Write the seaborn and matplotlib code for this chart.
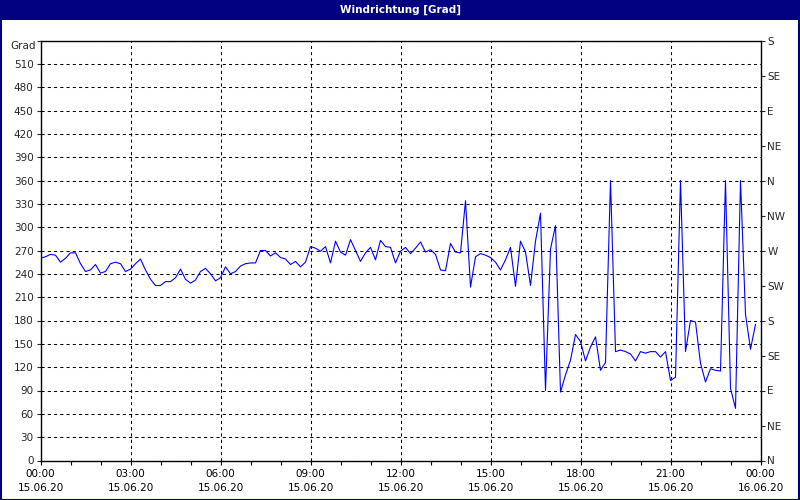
import matplotlib
matplotlib.use("Agg")
import matplotlib.pyplot as plt
import matplotlib.dates as mdates
from matplotlib.patches import Rectangle
from matplotlib.transforms import blended_transform_factory
import seaborn as sns
import pandas as pd

sns.set_style("white")
plt.rcParams['font.family'] = ['DejaVu Sans']
plt.rcParams['font.size'] = 7.5

# Windrichtung alle 10 Minuten, 15.06.20 00:00 - 23:50
richtung = [
    260, 262, 265, 264, 255, 260, 267, 267, 253, 243, 245, 252, 241, 243, 253, 255,
    253, 243, 246, 253, 259, 245, 233, 225, 225, 230, 230, 235, 246, 233, 228, 232,
    243, 247, 240, 231, 235, 249, 240, 243, 250, 253, 254, 254, 270, 270, 263, 267,
    261, 259, 252, 256, 249, 255, 275, 273, 269, 275, 254, 282, 268, 264, 284, 270,
    256, 267, 274, 258, 283, 275, 274, 254, 269, 274, 266, 273, 281, 268, 271, 265,
    245, 244, 279, 268, 267, 334, 223, 262, 266, 264, 261, 255, 245, 258, 274, 224,
    282, 268, 225, 282, 318, 90, 272, 302, 88, 110, 129, 162, 153, 128, 146, 159,
    116, 126, 360, 140, 142, 140, 137, 128, 140, 138, 140, 140, 133, 140, 103, 107,
    360, 140, 180, 178, 125, 101, 118, 116, 115, 360, 93, 67, 360, 188, 143, 175,
]
zeit = pd.date_range("2020-06-15 00:00", periods=len(richtung), freq="10min")
df = pd.DataFrame({"zeit": zeit, "grad": richtung})

grad_ticks = list(range(0, 541, 30))
himmel_ticks = list(range(0, 541, 45))
himmel_labels = ["N", "NE", "E", "SE", "S", "SW", "W", "NW", "N", "NE", "E", "SE", "S"]

fig = plt.figure(figsize=(8, 5), dpi=100, facecolor="white")
ax = fig.add_axes([40.5 / 800, 39.5 / 500, 720 / 800, 420 / 500])

sns.lineplot(data=df, x="zeit", y="grad", ax=ax, color="#0000FF", linewidth=0.8)

ax.set_xlim(pd.Timestamp("2020-06-15 00:00"), pd.Timestamp("2020-06-16 00:00"))
ax.set_ylim(0, 540)
ax.set_xlabel("")
ax.set_ylabel("")

ax.xaxis.set_major_locator(mdates.HourLocator(byhour=range(0, 24, 3)))
ax.xaxis.set_minor_locator(mdates.HourLocator())
ax.xaxis.set_major_formatter(mdates.DateFormatter("%H:%M\n%d.%m.%y"))
ax.set_yticks(grad_ticks)
ax.set_yticklabels([str(v) for v in grad_ticks[:-1]] + [""])

ax.tick_params(axis="x", which="both", direction="out", length=3, width=0.8,
               bottom=True, colors="black", pad=3)
ax.tick_params(axis="y", direction="out", length=3, width=0.8, left=True, pad=2)
for lab in ax.get_xticklabels():
    lab.set_linespacing(1.55)

ax.grid(True, which="major", color="black", linestyle=(0, (3, 3)), linewidth=0.75)
for s in ax.spines.values():
    s.set_color("black")
    s.set_linewidth(1.0)

trans = blended_transform_factory(ax.transAxes, ax.transData)
ax.text(-0.006, 540, "Grad", transform=trans, ha="right", va="top", fontsize=7.5)

ax2 = ax.twinx()
ax2.set_ylim(0, 540)
ax2.set_yticks(himmel_ticks)
ax2.set_yticklabels(himmel_labels)
ax2.tick_params(axis="y", direction="out", length=3, width=0.8, right=True, pad=2)
ax2.grid(False)
for s in ax2.spines.values():
    s.set_visible(False)

# Titelleiste und Rahmen
fig.patches.append(Rectangle((0, 1 - 20 / 500), 1, 20 / 500, transform=fig.transFigure,
                             facecolor="#000080", edgecolor="none", zorder=0))
fig.patches.append(Rectangle((0.001, 0.001), 0.998, 0.998, transform=fig.transFigure,
                             facecolor="none", edgecolor="#000080", linewidth=1.5))
fig.text(0.5, 1 - 10 / 500, "Windrichtung [Grad]", color="white", fontweight="bold",
         ha="center", va="center", fontsize=7.5)

fig.savefig("out.png", dpi=100, facecolor=fig.get_facecolor())
